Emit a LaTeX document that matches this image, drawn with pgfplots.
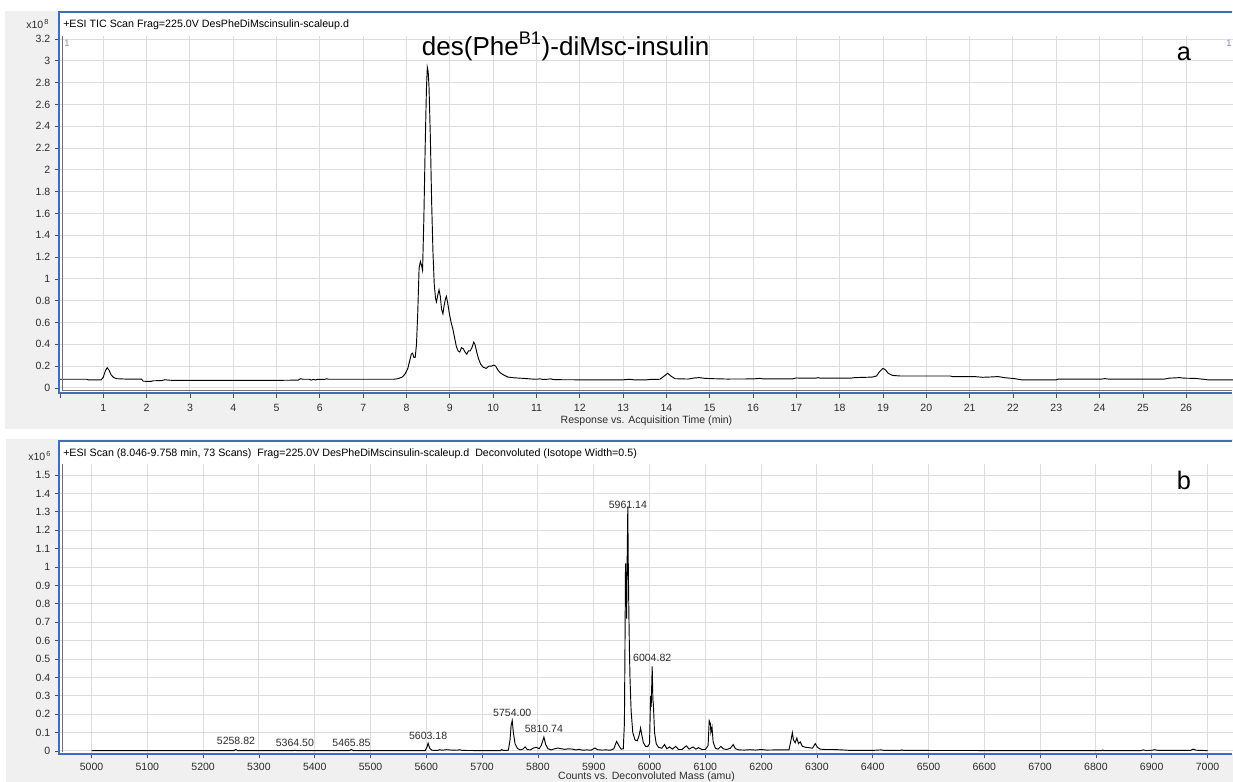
\documentclass[border=0pt]{standalone}
\usepackage{fontspec}
\setmainfont{Liberation Sans}
\usepackage{pgfplots}
\pgfplotsset{compat=1.18}
\usepackage{pgfplotstable}

\definecolor{panelgray}{RGB}{240,240,240}
\definecolor{gridgray}{RGB}{221,221,221}
\definecolor{frameblue}{RGB}{66,108,186}
\definecolor{labeltext}{RGB}{45,45,45}
\definecolor{markergray}{RGB}{150,150,150}

\newcommand{\ticfont}{\fontsize{7.9}{9}\selectfont}

% Total ion chromatogram (response x 10^8 vs. time in min)
\pgfplotstableread{
t      tic
0.00   0.080
0.30   0.080
0.62   0.080
0.66   0.074
0.95   0.074
1.00   0.100
1.05   0.160
1.09   0.185
1.13   0.165
1.18   0.120
1.24   0.095
1.32   0.085
1.50   0.082
1.88   0.082
1.92   0.062
2.10   0.060
2.15   0.066
2.35   0.068
2.42   0.076
2.50   0.072
2.60   0.070
3.00   0.070
4.00   0.070
5.00   0.070
5.50   0.072
5.55   0.085
5.62   0.080
5.75   0.080
5.80   0.072
5.85   0.080
5.90   0.073
5.95   0.080
6.10   0.078
6.16   0.085
6.20   0.080
7.00   0.080
7.70   0.080
7.80   0.085
7.90   0.100
7.97   0.130
8.03   0.180
8.08   0.260
8.11   0.310
8.14   0.320
8.17   0.280
8.20   0.280
8.23   0.400
8.26   0.700
8.29   1.100
8.32   1.160
8.35   1.120
8.37   1.080
8.40   1.550
8.43   2.200
8.46   2.750
8.48   2.940
8.50   2.900
8.52   2.750
8.55   2.300
8.58   1.700
8.61   1.250
8.64   0.950
8.67   0.820
8.69   0.790
8.72   0.850
8.75   0.900
8.78   0.840
8.81   0.720
8.84   0.680
8.87   0.760
8.90   0.820
8.92   0.840
8.95   0.780
8.99   0.680
9.03   0.600
9.07   0.540
9.11   0.460
9.15   0.380
9.19   0.340
9.23   0.330
9.27   0.370
9.31   0.360
9.35   0.330
9.39   0.310
9.43   0.340
9.47   0.340
9.51   0.370
9.55   0.420
9.58   0.400
9.62   0.330
9.66   0.270
9.71   0.220
9.77   0.190
9.84   0.180
9.90   0.200
9.96   0.200
10.02  0.210
10.06  0.200
10.10  0.170
10.16  0.140
10.24  0.120
10.34  0.100
10.50  0.093
10.70  0.088
10.90  0.082
11.00  0.080
11.08  0.084
11.15  0.078
11.25  0.080
11.33  0.084
11.38  0.078
11.50  0.076
12.00  0.075
13.00  0.075
13.15  0.080
13.25  0.075
13.55  0.075
13.60  0.078
13.85  0.080
13.95  0.110
14.03  0.135
14.10  0.110
14.20  0.085
14.50  0.082
14.65  0.092
14.75  0.095
14.90  0.088
15.10  0.085
15.40  0.082
16.00  0.083
16.15  0.088
16.25  0.083
16.90  0.083
17.00  0.092
17.10  0.090
17.45  0.090
17.50  0.095
17.55  0.090
18.25  0.090
18.35  0.095
18.60  0.098
18.75  0.100
18.85  0.110
18.92  0.150
19.00  0.180
19.06  0.165
19.12  0.135
19.22  0.115
19.40  0.110
20.00  0.110
20.55  0.110
20.60  0.105
21.10  0.105
21.30  0.098
21.55  0.102
21.65  0.105
21.80  0.095
22.05  0.085
22.20  0.075
23.00  0.075
23.05  0.082
24.05  0.082
24.12  0.086
24.20  0.082
25.50  0.082
25.60  0.090
25.85  0.095
25.95  0.090
26.20  0.088
26.40  0.080
26.50  0.075
27.08  0.075
}\ticdata

% Deconvoluted mass spectrum (counts x 10^6 vs. mass in amu)
\pgfplotstableread{
mass    counts
5000    0.002
5100    0.002
5200    0.002
5255    0.002
5258.8  0.008
5262    0.002
5362    0.002
5364.5  0.004
5367    0.002
5462    0.002
5465.9  0.008
5469    0.002
5598    0.002
5601    0.020
5603.2  0.042
5606    0.015
5610    0.004
5620    0.003
5624    0.007
5628    0.004
5636    0.007
5645    0.005
5655    0.004
5660    0.007
5664    0.003
5700    0.002
5733    0.002
5735    0.008
5738    0.003
5747    0.004
5750    0.060
5752    0.140
5754.0  0.165
5756    0.100
5759    0.040
5763    0.015
5768    0.006
5773    0.010
5777    0.022
5781    0.008
5786    0.006
5792    0.016
5797    0.020
5802    0.012
5806    0.030
5810.7  0.075
5814    0.035
5818    0.012
5824    0.006
5830    0.012
5836    0.016
5842    0.012
5848    0.009
5855    0.012
5862    0.010
5868    0.006
5874    0.009
5880    0.004
5888    0.006
5895    0.004
5902    0.016
5907    0.007
5914    0.005
5922    0.006
5930    0.004
5936    0.012
5941    0.052
5945    0.030
5949    0.010
5953    0.012
5955    0.150
5956    0.550
5957    1.020
5958    0.920
5959    0.720
5960    1.050
5961.1  1.330
5962    1.000
5963    0.750
5964    0.550
5965    0.400
5967    0.220
5970    0.100
5974    0.060
5978    0.055
5981    0.080
5984    0.125
5986    0.090
5989    0.045
5993    0.025
5997    0.025
6000    0.040
6002    0.300
6003    0.240
6004.8  0.460
6006    0.280
6007    0.250
6009    0.100
6012    0.040
6016    0.020
6022    0.015
6027    0.035
6031    0.012
6036    0.022
6041    0.010
6047    0.025
6052    0.008
6058    0.008
6066    0.028
6071    0.010
6078    0.022
6083    0.010
6088    0.018
6094    0.008
6100    0.008
6105    0.030
6107    0.165
6109    0.150
6110    0.100
6112    0.130
6114    0.050
6118    0.015
6123    0.010
6128    0.025
6132    0.012
6138    0.008
6145    0.015
6150    0.035
6154    0.012
6160    0.006
6170    0.005
6180    0.007
6190    0.005
6200    0.008
6210    0.005
6230    0.006
6250    0.006
6253    0.050
6256    0.100
6258    0.060
6261    0.045
6264    0.070
6267    0.040
6270    0.050
6274    0.025
6280    0.020
6286    0.018
6292    0.015
6297    0.040
6301    0.020
6306    0.010
6315    0.008
6330    0.008
6345    0.006
6360    0.003
6400    0.003
6415    0.006
6420    0.003
6450    0.003
6452    0.006
6455    0.003
6700    0.002
6810    0.002
6812    0.005
6815    0.002
6880    0.002
6885    0.006
6890    0.002
6900    0.004
6905    0.007
6912    0.003
6970    0.003
6974    0.010
6980    0.004
7000    0.002
}\specdata

% Annotated peak masses and the height at which their labels sit
\pgfplotstableread{
mass     pos     label
5258.82  0.033   5258.82
5364.50  0.027   5364.50
5465.85  0.027   5465.85
5603.18  0.060   5603.18
5754.00  0.188   5754.00
5810.74  0.102   5810.74
5961.14  1.319   5961.14
6004.82  0.485   6004.82
}\peaklabels

\pgfplotsset{
  msd/.style={
    scale only axis,
    width=879.75pt,
    anchor=south west,
    axis x line*=bottom,
    axis y line*=left,
    axis line style={draw=none},
    tick align=outside,
    major tick length=3.75pt,
    tick style={black!70, line width=0.6pt},
    grid=major,
    major grid style={gridgray, line width=0.75pt},
    tick label style={font=\ticfont, text=labeltext},
    /pgf/number format/assume math mode=true,
    /pgf/number format/set thousands separator={},
    scaled ticks=false,
  }
}

\begin{document}
\begin{tikzpicture}[x=0.75pt, y=-0.75pt]
\useasboundingbox (0,0) rectangle (1233,782);
\fill[white] (0,0) rectangle (1233,782);

% panel backgrounds
\fill[panelgray] (5,11) rectangle (1233,429);
\fill[white] (60,12) rectangle (1233,394);
\fill[panelgray] (6,439) rectangle (1233,782);
\fill[white] (60,441) rectangle (1233,754);

% (a) chromatogram
\begin{axis}[msd,
  at={(45pt,-294.75pt)},
  height=267.75pt,
  xmin=0, xmax=27.08,
  ymin=-0.046, ymax=3.2275,
  xtick={0,1,...,26},
  xticklabels={,1,2,3,4,5,6,7,8,9,10,11,12,13,14,15,16,17,18,19,20,21,22,23,24,25,26},
  xticklabel style={yshift=-1pt},
  ytick={0,0.2,0.4,0.6,0.8,1,1.2,1.4,1.6,1.8,2,2.2,2.4,2.6,2.8,3,3.2},
]
\addplot[black, line width=0.7pt] table[x=t, y=tic] {\ticdata};
\end{axis}

% (b) deconvoluted spectrum
\begin{axis}[msd,
  at={(45pt,-564.75pt)},
  height=216.75pt,
  xmin=4943.5, xmax=7045.7,
  ymin=-0.011, ymax=1.56,
  xtick={5000,5100,...,7000},
  ytick={0,0.1,0.2,0.3,0.4,0.5,0.6,0.7,0.8,0.9,1,1.1,1.2,1.3,1.4,1.5},
]
\addplot[black, line width=0.7pt] table[x=mass, y=counts] {\specdata};
\addplot[draw=none, mark=none, nodes near coords,
  point meta=explicit symbolic,
  every node near coord/.append style={font=\ticfont, text=labeltext, anchor=base, inner sep=0pt}]
  table[x=mass, y=pos, meta=label] {\peaklabels};
\end{axis}

% panel frames and axis lines
\draw[black!55, line width=0.6pt] (62,36) -- (62,390) -- (1232,390);
\draw[frameblue, line width=1.5pt] (59,11.2) -- (59,393);
\draw[frameblue, line width=1.5pt] (58.2,12) -- (1232,12);
\draw[frameblue, line width=1.5pt] (58.2,393) -- (1232,393);
\draw[black!55, line width=0.6pt] (62,464) -- (62,752);
\draw[frameblue, line width=1.5pt] (59,440.2) -- (59,754);
\draw[frameblue, line width=1.5pt] (58.2,441) -- (1232,441);
\draw[frameblue, line width=1.5pt] (58.2,754) -- (1232,754);

% panel titles and annotations
\node[anchor=base west, inner sep=0pt, font=\fontsize{8}{9.6}\selectfont, text=black]
  at (63,27.5) {+ESI TIC Scan Frag=225.0V DesPheDiMscinsulin-scaleup.d};
\node[anchor=base west, inner sep=0pt, font=\ticfont, text=labeltext]
  at (26,28) {x10\raisebox{2.6pt}{\fontsize{5.5}{6}\selectfont\,8}};
\node[anchor=base west, inner sep=0pt, font=\fontsize{19.5}{22}\selectfont]
  at (421.7,55) {des(Phe\textsuperscript{B1})-diMsc-insulin};
\node[anchor=base, inner sep=0pt, font=\fontsize{19}{22}\selectfont] at (1184,60) {a};
\node[anchor=base, inner sep=0pt, font=\fontsize{7}{8}\selectfont, text=markergray] at (67,46.5) {1};
\node[anchor=base, inner sep=0pt, font=\fontsize{7}{8}\selectfont, text=markergray!70!frameblue] at (1229,46) {1};
\node[font=\ticfont, text=labeltext] at (646.5,421) {Response vs. Acquisition Time (min)};

\node[anchor=base west, inner sep=0pt, font=\fontsize{8}{9.6}\selectfont, text=black]
  at (63,456) {+ESI Scan (8.046-9.758 min, 73 Scans)\ \ Frag=225.0V DesPheDiMscinsulin-scaleup.d\ \ Deconvoluted (Isotope Width=0.5)};
\node[anchor=base west, inner sep=0pt, font=\ticfont, text=labeltext]
  at (28,460) {x10\raisebox{2.6pt}{\fontsize{5.5}{6}\selectfont\,6}};
\node[anchor=base, inner sep=0pt, font=\fontsize{19}{22}\selectfont] at (1184,489) {b};
\node[font=\ticfont, text=labeltext] at (646.5,777) {Counts vs. Deconvoluted Mass (amu)};
\end{tikzpicture}
\end{document}
